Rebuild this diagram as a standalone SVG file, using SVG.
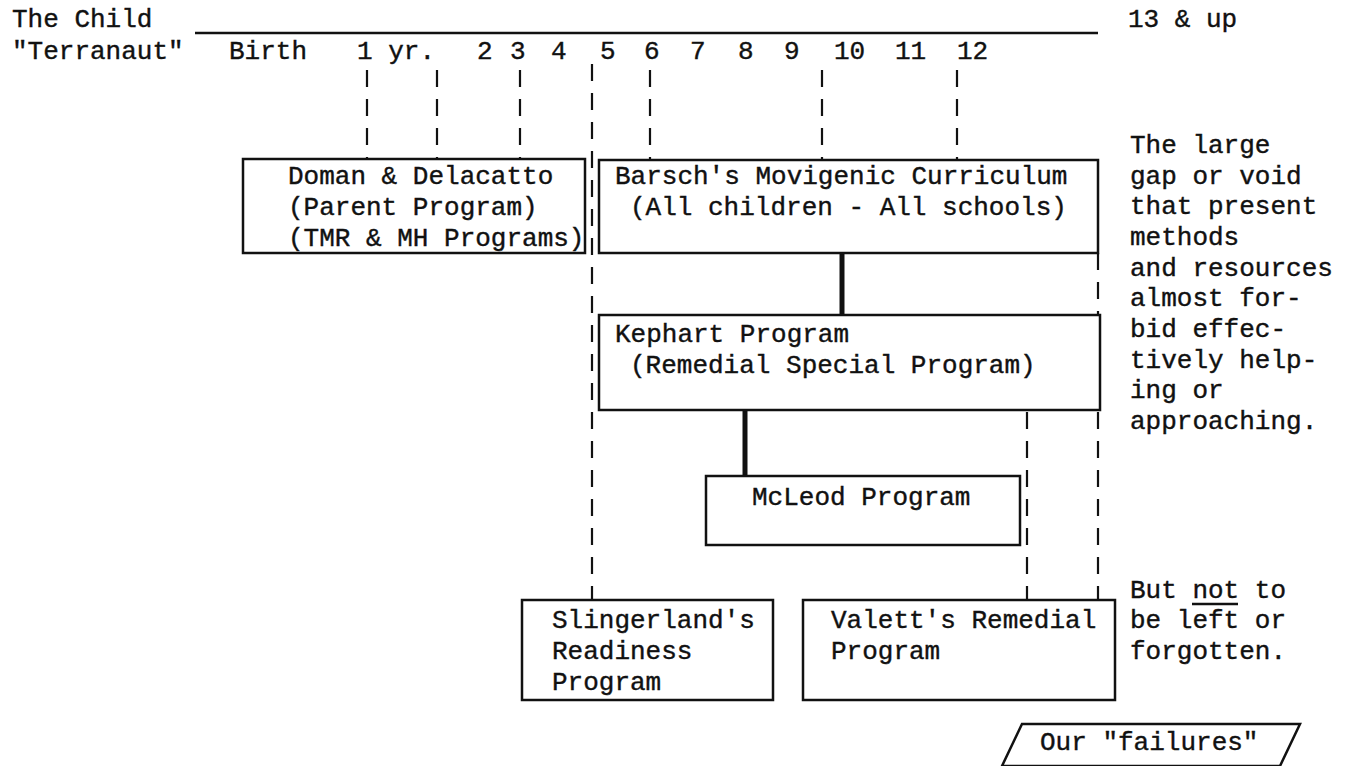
<svg xmlns="http://www.w3.org/2000/svg" width="1345" height="766" viewBox="0 0 1345 766">
<style>
text{font-family:"Liberation Mono","Courier New",monospace;font-size:26px;fill:#111;stroke:#111;stroke-width:0.4;}
.box{fill:#fff;stroke:#111;stroke-width:2.5;}
.dash{stroke:#111;stroke-width:2.2;stroke-dasharray:17 12;fill:none;}
.thick{stroke:#111;stroke-width:5;fill:none;}
.line{stroke:#111;stroke-width:2.5;fill:none;}
</style>
<rect width="1345" height="766" fill="#fff"/>
<g id="header">
<text x="12" y="27">The Child</text>
<text x="12" y="59">"Terranaut"</text>
<text x="1128" y="27">13 &amp; up</text>
<line class="line" x1="195" y1="33" x2="1098" y2="33"/>
</g>
<g id="ages">
<text x="229" y="59">Birth</text>
<text x="357" y="59">1 yr.</text>
<text x="477" y="59">2</text>
<text x="510" y="59">3</text>
<text x="551" y="59">4</text>
<text x="600" y="59">5</text>
<text x="644" y="59">6</text>
<text x="690" y="59">7</text>
<text x="738" y="59">8</text>
<text x="784" y="59">9</text>
<text x="834" y="59">10</text>
<text x="895" y="59">11</text>
<text x="957" y="59">12</text>
</g>
<g id="connectors">
<line class="dash" x1="367" y1="70" x2="367" y2="159"/>
<line class="dash" x1="437" y1="70" x2="437" y2="159"/>
<line class="dash" x1="520" y1="70" x2="520" y2="159"/>
<line class="dash" x1="592" y1="64" x2="592" y2="600"/>
<line class="dash" x1="650" y1="70" x2="650" y2="160"/>
<line class="dash" x1="822" y1="70" x2="822" y2="160"/>
<line class="dash" x1="957" y1="70" x2="957" y2="160"/>
<line class="dash" x1="1098" y1="253" x2="1098" y2="315"/>
<line class="dash" x1="1027" y1="412" x2="1027" y2="600"/>
<line class="dash" x1="1098" y1="412" x2="1098" y2="600"/>
<line class="thick" x1="842" y1="253" x2="842" y2="315"/>
<line class="thick" x1="745" y1="410" x2="745" y2="476"/>
</g>
<g id="doman">
<rect class="box" x="243" y="159" width="342" height="94"/>
<text x="288" y="184">Doman &amp; Delacatto</text>
<text x="288" y="215">(Parent Program)</text>
<text x="288" y="246">(TMR &amp; MH Programs)</text>
</g>
<g id="barsch">
<rect class="box" x="599" y="160" width="499" height="93"/>
<text x="615" y="184">Barsch's Movigenic Curriculum</text>
<text x="630" y="215">(All children - All schools)</text>
</g>
<g id="kephart">
<rect class="box" x="599" y="315" width="501" height="95"/>
<text x="615" y="342">Kephart Program</text>
<text x="630" y="373">(Remedial Special Program)</text>
</g>
<g id="mcleod">
<rect class="box" x="706" y="476" width="314" height="69"/>
<text x="752" y="505">McLeod Program</text>
</g>
<g id="slingerland">
<rect class="box" x="522" y="600" width="251" height="100"/>
<text x="552" y="628">Slingerland's</text>
<text x="552" y="659">Readiness</text>
<text x="552" y="690">Program</text>
</g>
<g id="valett">
<rect class="box" x="803" y="600" width="312" height="100"/>
<text x="831" y="628">Valett's Remedial</text>
<text x="831" y="659">Program</text>
</g>
<g id="gap-note">
<text x="1130" y="153">The large</text>
<text x="1130" y="184">gap or void</text>
<text x="1130" y="214">that present</text>
<text x="1130" y="245">methods</text>
<text x="1130" y="276">and resources</text>
<text x="1130" y="306">almost for-</text>
<text x="1130" y="337">bid effec-</text>
<text x="1130" y="368">tively help-</text>
<text x="1130" y="398">ing or</text>
<text x="1130" y="429">approaching.</text>
</g>
<g id="not-note">
<text x="1130" y="598">But not to</text>
<line class="line" x1="1192" y1="604" x2="1238" y2="604"/>
<text x="1130" y="628">be left or</text>
<text x="1130" y="659">forgotten.</text>
</g>
<g id="failures">
<polygon class="box" points="1022,724 1300,724 1280,766 1002,766"/>
<text x="1040" y="750">Our "failures"</text>
</g>
</svg>
